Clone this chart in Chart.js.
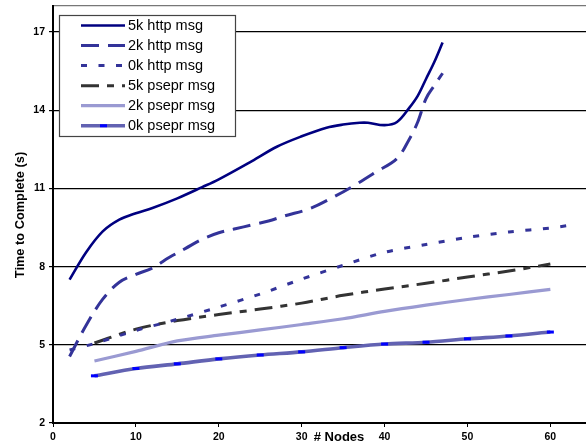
<!DOCTYPE html>
<html>
<head>
<meta charset="utf-8">
<script src="https://cdn.jsdelivr.net/npm/chart.js@4.4.1/dist/chart.umd.min.js"></script>
<style>
  html, body { margin: 0; padding: 0; background: #fff; }
  canvas { display: block; }
</style>
</head>
<body>
<canvas id="nodesChart" width="586" height="444"></canvas>
<script>
// values (x = # nodes, y = seconds)
const seriesNames = ['5k http msg', '2k http msg', '0k http msg', '5k psepr msg', '2k psepr msg', '0k psepr msg'];

const http5kX = [2, 4, 6, 8, 10, 12, 15, 18, 20, 24, 27, 30, 33, 35, 37, 38, 40, 41.5, 43, 44, 45, 46, 47];
const http5kY = [7.5, 8.55, 9.35, 9.8, 10.05, 10.25, 10.62, 11.05, 11.35, 12.05, 12.6, 13.0, 13.33, 13.45, 13.52, 13.52, 13.43, 13.55, 14.1, 14.55, 15.2, 15.85, 16.6];

const http2kX = [2, 4, 6, 8, 10, 12, 14, 16, 18, 20, 22, 24, 26, 28, 31, 34, 36, 39, 41.5, 43, 44, 45, 46, 47];
const http2kY = [4.55, 5.75, 6.75, 7.4, 7.7, 7.95, 8.35, 8.7, 9.05, 9.3, 9.45, 9.6, 9.75, 9.95, 10.23, 10.7, 11.05, 11.64, 12.15, 12.9, 13.55, 14.45, 14.95, 15.42];

const http0kX = [2, 5, 10, 15, 20, 25, 30, 35, 40, 45, 50, 55, 60, 62];
const http0kY = [4.8, 5.05, 5.55, 5.98, 6.45, 6.95, 7.52, 8.05, 8.55, 8.85, 9.12, 9.33, 9.48, 9.57];

const pseprX = [5, 10, 15, 20, 25, 30, 35, 40, 45, 50, 55, 60];
const psepr5kY = [5.07, 5.6, 5.93, 6.16, 6.37, 6.6, 6.9, 7.14, 7.36, 7.6, 7.83, 8.1];
const psepr2kY = [4.38, 4.75, 5.15, 5.37, 5.57, 5.78, 6.0, 6.28, 6.52, 6.74, 6.93, 7.13];
const psepr0kY = [3.81, 4.09, 4.27, 4.46, 4.61, 4.73, 4.89, 5.03, 5.1, 5.23, 5.34, 5.49];

const xTicks = [0, 10, 20, 30, 40, 50, 60];
const yTicks = [2, 5, 8, 11, 14, 17];

const FONT = '"Liberation Sans", Arial, sans-serif';

function pts(xs, ys) {
    return xs.map(function (x, i) { return { x: x, y: ys[i] }; });
}

const datasets = [
    { label: seriesNames[0], data: pts(http5kX, http5kY), borderColor: '#000080', borderWidth: 2.6, tension: 0.35 },
    { label: seriesNames[1], data: pts(http2kX, http2kY), borderColor: '#333399', borderWidth: 3, borderDash: [18, 9], tension: 0.35 },
    { label: seriesNames[2], data: pts(http0kX, http0kY), borderColor: '#333399', borderWidth: 3, borderDash: [6, 11.5], tension: 0.3 },
    { label: seriesNames[3], data: pts(pseprX, psepr5kY), borderColor: '#333333', borderWidth: 3, borderDash: [18, 8, 7, 8], tension: 0.3 },
    { label: seriesNames[4], data: pts(pseprX, psepr2kY), borderColor: '#9a9ad2', borderWidth: 3.2, tension: 0.3 },
    { label: seriesNames[5], data: pts(pseprX, psepr0kY), borderColor: '#6262b2', borderWidth: 3.6, tension: 0.3,
      pointStyle: 'line', pointRadius: 3.5, pointBorderWidth: 3, pointBorderColor: '#0000ff', pointBackgroundColor: '#0000ff' }
];
datasets.forEach(function (d) {
    d.fill = false;
    d.borderCapStyle = 'butt';
    if (d.pointRadius === undefined) d.pointRadius = 0;
});

// boxed legend inside the plot + inline axis titles
const extras = {
    id: 'extras',
    afterDraw: function (chart) {
        const ctx = chart.ctx;
        ctx.save();
        // y title
        ctx.fillStyle = '#000';
        ctx.font = 'bold 12.8px ' + FONT;
        ctx.textAlign = 'center';
        ctx.textBaseline = 'middle';
        ctx.translate(20, 215);
        ctx.rotate(-Math.PI / 2);
        ctx.fillText('Time to Complete (s)', 0, 0);
        ctx.setTransform(1, 0, 0, 1, 0, 0);
        // x title sits on the tick label row
        ctx.font = 'bold 13px ' + FONT;
        ctx.fillText('# Nodes', 339, 437.5);

        // legend box
        const bx = 59.5, by = 15.5, bw = 176, bh = 121;
        ctx.fillStyle = '#fff';
        ctx.fillRect(bx, by, bw, bh);
        ctx.strokeStyle = '#444';
        ctx.lineWidth = 1.2;
        ctx.strokeRect(bx, by, bw, bh);

        chart.data.datasets.forEach(function (d, i) {
            const y = 25.5 + i * 20.05;
            ctx.strokeStyle = d.borderColor;
            ctx.lineWidth = d.borderWidth;
            ctx.lineCap = 'butt';
            ctx.setLineDash(d.borderDash || []);
            ctx.beginPath();
            ctx.moveTo(81, y);
            ctx.lineTo(125, y);
            ctx.stroke();
            ctx.setLineDash([]);
            if (d.pointStyle === 'line') {
                ctx.strokeStyle = d.pointBorderColor;
                ctx.lineWidth = 3;
                ctx.beginPath();
                ctx.moveTo(100, y);
                ctx.lineTo(107, y);
                ctx.stroke();
            }
            ctx.fillStyle = '#000';
            ctx.font = '14.5px ' + FONT;
            ctx.textAlign = 'left';
            ctx.textBaseline = 'middle';
            ctx.fillText(d.label, 128, y + 0.5);
        });
        ctx.restore();
    }
};

document.addEventListener('DOMContentLoaded', function () {
    const canvas = document.getElementById('nodesChart');
    new Chart(canvas.getContext('2d'), {
        type: 'line',
        data: { datasets: datasets },
        options: {
            responsive: false,
            animation: false,
            layout: { autoPadding: false, padding: { top: 6, right: 0, bottom: 0, left: 0 } },
            plugins: {
                legend: { display: false },
                tooltip: { enabled: false }
            },
            scales: {
                x: {
                    type: 'linear',
                    min: 0,
                    max: 64.3,
                    afterBuildTicks: function (scale) {
                        scale.ticks = xTicks.map(function (v) { return { value: v }; });
                    },
                    afterFit: function (scale) {
                        scale.height = 21;
                        scale.paddingLeft = 0;
                        scale.paddingRight = 0;
                    },
                    border: { display: true, color: '#000', width: 2 },
                    grid: { drawOnChartArea: false, drawTicks: true, tickLength: 4, color: '#000' },
                    ticks: {
                        padding: 4,
                        maxRotation: 0,
                        color: '#000',
                        font: { family: FONT, size: 10.5, weight: 'bold' }
                    }
                },
                y: {
                    type: 'linear',
                    min: 2,
                    max: 18,
                    afterBuildTicks: function (scale) {
                        scale.ticks = yTicks.concat([18]).map(function (v) { return { value: v }; });
                    },
                    afterFit: function (scale) {
                        scale.width = 53;
                        scale.paddingTop = 0;
                        scale.paddingBottom = 0;
                    },
                    border: { display: true, color: '#000', width: 2 },
                    grid: {
                        drawTicks: true,
                        tickLength: 4,
                        lineWidth: 1.2,
                        color: function (c) { return c.tick && c.tick.value === 18 ? '#777' : '#000'; },
                        tickColor: function (c) { return c.tick && c.tick.value === 18 ? 'rgba(0,0,0,0)' : '#000'; }
                    },
                    ticks: {
                        padding: 4,
                        color: '#000',
                        font: { family: FONT, size: 10.5, weight: 'bold' },
                        callback: function (v) { return v === 18 ? '' : v; }
                    }
                }
            }
        },
        plugins: [extras]
    });
});
</script>
</body>
</html>
